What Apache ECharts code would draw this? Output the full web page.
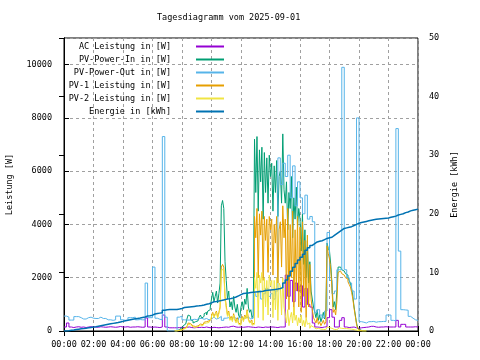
<!DOCTYPE html>
<html><head><meta charset="utf-8">
<script src="https://cdn.jsdelivr.net/npm/echarts@6/dist/echarts.min.js"></script>
<style>html,body{margin:0;padding:0;background:#fff}#c{width:480px;height:360px}</style>
</head><body><div id="c"></div>
<script>
// ---------- data ----------
const chartTitle = 'Tagesdiagramm vom 2025-09-01';
const seriesNames = ['AC Leistung in [W]', 'PV-Power-In in [W]', 'PV-Power-Out in [W]',
  'PV-1 Leistung in [W]', 'PV-2 Leistung in [W]', 'Energie in [kWh]'];
const xTickLabels = ['00:00','02:00','04:00','06:00','08:00','10:00','12:00','14:00','16:00','18:00','20:00','22:00','00:00'];

// full-day series, 10-minute samples from 00:00 to 24:00
const fullStartHour = 0;
const fullStepMin = 10;
const acPower = [
  150,300,150,130,150,160,
  140,150,130,150,160,150,
  150,140,160,150,140,150,
  160,150,140,150,170,150,
  150,160,140,150,150,160,
  150,140,150,490,150,140,
  150,140,130,150,600,150,
  120,120,120,120,130,140,
  130,140,150,130,120,130,
  130,140,130,150,130,120,
  140,130,120,130,140,150,
  140,170,180,150,140,150,
  140,150,160,150,140,130,
  150,140,130,150,140,150,
  150,140,130,150,150,150,
  2100,1300,1900,1100,1800,1500,
  1700,900,1600,1000,900,300,
  150,140,130,150,160,500,
  800,520,150,150,400,500,
  150,130,140,150,120,100,
  120,130,140,150,175,175,
  150,140,150,150,160,150,
  150,150,150,400,150,250,
  250,150,150,150,160,150,
  150
];
const pvOut = [
  560,520,410,410,540,540,
  500,450,450,500,520,480,
  470,470,520,470,470,420,
  420,400,420,560,560,420,
  400,400,500,500,520,420,
  430,420,420,1800,500,500,
  2400,480,440,420,7300,520,
  0,0,0,0,520,560,
  420,410,410,420,440,430,
  460,480,440,470,420,450,
  520,450,480,550,400,480,
  500,450,520,480,420,500,
  480,500,520,450,480,1400,
  1300,1500,1200,1400,1600,1300,
  1400,1200,1500,6500,5500,6300,
  5800,6600,5000,6200,4700,5600,
  5000,4400,5100,4200,4300,4100,
  700,800,600,500,750,3700,
  1900,1400,1500,2300,2300,9900,
  2300,2000,1800,1500,1200,8000,
  350,330,300,350,350,360,
  330,350,350,360,360,600,
  600,400,380,7600,3000,800,
  790,780,550,480,420,400,
  400
];
const energy = [
  0.00,0.05,0.12,0.18,0.25,0.31,
  0.37,0.42,0.48,0.55,0.61,0.67,
  0.74,0.82,0.90,0.98,1.06,1.14,
  1.22,1.30,1.38,1.46,1.55,1.64,
  1.75,1.83,1.92,2.00,2.08,2.15,
  2.22,2.30,2.38,2.55,2.62,2.70,
  2.90,2.98,3.05,3.12,3.55,3.62,
  3.65,3.66,3.66,3.67,3.75,3.85,
  4.00,4.05,4.10,4.15,4.20,4.25,
  4.30,4.36,4.45,4.55,4.65,4.80,
  5.00,5.05,5.12,5.20,5.30,5.40,
  5.48,5.56,5.65,5.80,6.00,6.20,
  6.40,6.45,6.50,6.55,6.60,6.65,
  6.70,6.75,6.80,6.90,6.95,7.00,
  7.05,7.10,7.15,7.25,7.40,8.20,
  8.70,9.40,10.2,10.9,11.5,12.1,
  12.6,13.1,13.8,14.2,14.6,14.9,
  15.2,15.3,15.4,15.6,15.8,15.9,
  16.0,16.3,16.6,16.9,17.2,17.5,
  17.6,17.7,17.8,18.0,18.2,18.4,
  18.5,18.6,18.7,18.8,18.9,19.0,
  19.05,19.1,19.15,19.2,19.25,19.3,
  19.4,19.5,19.6,19.8,19.9,20.0,
  20.2,20.3,20.5,20.6,20.7,20.8,
  20.9
];

// daytime series, 5-minute samples from 07:30 to 20:30
const dayStartHour = 7.5;
const dayStepMin = 5;
const pvIn = [
  0,0,0,60,90,120,
  150,200,260,320,450,600,550,420,380,300,350,420,
  380,450,520,600,480,550,650,700,600,750,800,900,
  1200,1450,1100,1300,1500,1050,1400,1800,4700,4900,4600,2600,
  1900,1200,1500,900,1100,800,1300,900,700,1000,600,500,
  900,1100,800,1200,1000,1600,900,700,800,500,600,7200,
  5200,7300,4500,6800,5600,6900,4200,6700,5200,6500,4800,6600,
  5800,6300,4500,6200,5200,6400,4300,5800,6000,4800,7400,5300,
  4800,5600,3800,5200,4600,5800,3500,5000,4200,5400,3900,4600,
  4200,3000,4400,2500,3800,2000,3400,1800,2600,1500,1200,900,
  700,500,800,400,600,350,500,700,450,600,3300,3100,
  3000,2500,1800,900,1100,800,1500,2400,2400,2350,2300,2250,
  2200,2150,2100,2000,1900,1800,1600,1300,900,600,300,100,
  50,0,0,0,0,0,0
];
const pv1 = [
  0,0,0,30,50,60,
  80,100,130,160,220,300,280,210,190,150,170,210,
  190,220,260,300,240,280,330,350,300,380,400,450,
  600,700,550,650,750,520,700,900,2400,2500,2400,1300,
  950,600,750,450,550,400,650,450,350,500,300,250,
  450,550,400,600,500,800,450,350,400,250,300,4300,
  3500,4600,2000,4400,3600,4500,1900,4300,3400,4200,2200,4300,
  3800,4200,2100,4000,3300,4300,1800,3800,4100,2400,4700,3500,
  4200,1200,4600,800,4000,2000,4500,600,3800,1500,4300,900,
  3900,700,4100,1300,3400,500,3600,900,2500,1200,800,500,
  400,300,500,250,350,200,300,400,250,350,3200,2900,
  2700,2300,1600,700,800,600,1100,2200,2250,2200,2150,2100,
  2050,2000,1950,1850,1750,1650,1450,1200,850,550,250,80,
  30,0,0,0,0,0,0
];
const pv2 = [
  0,0,0,20,30,40,
  60,80,100,130,180,250,230,170,150,120,140,170,
  160,190,220,260,200,230,280,300,260,320,350,400,
  550,650,500,600,700,480,650,850,2300,2300,2200,1200,
  850,550,700,400,500,350,600,400,300,450,250,220,
  400,500,350,550,450,750,400,300,350,220,250,2000,
  1600,2200,500,2100,1800,2200,400,2000,900,1900,600,2100,
  1700,1900,500,1900,800,2000,400,1800,1700,600,2000,900,
  600,300,800,200,500,700,300,900,400,600,200,500,
  300,600,200,400,150,500,250,300,100,200,150,100,
  80,60,100,50,70,40,60,80,50,60,150,130,
  120,100,80,60,70,50,90,120,110,100,100,90,
  90,90,80,80,70,70,60,50,40,30,20,10,
  0,0,0,0,0,0,0
];

const seriesColors = ['#9400d3','#009e73','#56b4e9','#e69f00','#f0e442','#0072b2'];

// ---------- chart ----------
const FONT = 'DejaVu Sans Mono';
const FS = 8.5;
function toPairs(values, startHour, stepMin) {
  return values.map((v, i) => [startHour + i * stepMin / 60, v]);
}
const dataSets = [
  toPairs(acPower, fullStartHour, fullStepMin),
  toPairs(pvIn, dayStartHour, dayStepMin),
  toPairs(pvOut, fullStartHour, fullStepMin),
  toPairs(pv1, dayStartHour, dayStepMin),
  toPairs(pv2, dayStartHour, dayStepMin),
  toPairs(energy, fullStartHour, fullStepMin)
];
const chart = echarts.init(document.getElementById('c'), null, {renderer: 'canvas'});
const gridLine = {show: true, lineStyle: {color: '#a0a0a0', width: 1, type: [3, 3]}};
const blackLine = {show: true, lineStyle: {color: '#000', width: 1}};
const tick = {show: true, inside: true, length: 5, lineStyle: {color: '#000'}};
const lbl = {color: '#000', fontFamily: FONT, fontSize: FS};
chart.setOption({
  animation: false,
  backgroundColor: '#fff',
  title: {text: chartTitle, left: 157, top: 13, padding: 0,
    textStyle: {fontFamily: FONT, fontSize: FS, fontWeight: 'normal', color: '#000'}},
  legend: {
    orient: 'vertical', align: 'right', right: 256, top: 40, padding: 0, itemGap: 0,
    itemWidth: 28, itemHeight: 2, icon: 'rect',
    textStyle: {fontFamily: FONT, fontSize: FS, color: '#000', lineHeight: 13, padding: [0, 20, 0, 0]},
    data: seriesNames
  },
  grid: {left: 64, right: 62, top: 38, bottom: 29, show: true, borderColor: '#000', borderWidth: 1,
    outerBoundsMode: 'none', containLabel: false},
  xAxis: [
    {type: 'value', min: 0, max: 24, interval: 2, position: 'bottom',
      axisLine: blackLine, axisTick: tick,
      axisLabel: Object.assign({margin: 9, showMaxLabel: true, showMinLabel: true,
        formatter: v => xTickLabels[Math.round(v / 2)]}, lbl),
      splitLine: gridLine},
    {type: 'value', min: 0, max: 24, interval: 2, position: 'top',
      axisLine: blackLine, axisTick: tick, axisLabel: {show: false}, splitLine: {show: false}}
  ],
  yAxis: [
    {type: 'value', min: 0, max: 11000, interval: 2000, position: 'left',
      name: 'Leistung [W]', nameLocation: 'middle', nameGap: 50,
      nameTextStyle: {fontFamily: FONT, fontSize: FS, color: '#000'},
      axisLine: blackLine, axisTick: tick,
      axisLabel: Object.assign({margin: 12, showMaxLabel: false, formatter: v => String(v)}, lbl),
      splitLine: gridLine},
    {type: 'value', min: 0, max: 50, interval: 10, position: 'right',
      name: 'Energie [kWh]', nameLocation: 'middle', nameGap: 30,
      nameTextStyle: {fontFamily: FONT, fontSize: FS, color: '#000'},
      axisLine: blackLine, axisTick: tick,
      axisLabel: Object.assign({margin: 11, formatter: v => String(v)}, lbl),
      splitLine: {show: false}}
  ],
  series: seriesNames.map((name, i) => ({
    name: name, type: 'line', step: 'end',
    xAxisIndex: 0, yAxisIndex: i === 5 ? 1 : 0,
    data: dataSets[i], showSymbol: false, symbol: 'none',
    lineStyle: {width: i === 5 ? 1.5 : 1, color: seriesColors[i]},
    itemStyle: {color: seriesColors[i]},
    emphasis: {disabled: true}
  }))
});
</script>
</body></html>
